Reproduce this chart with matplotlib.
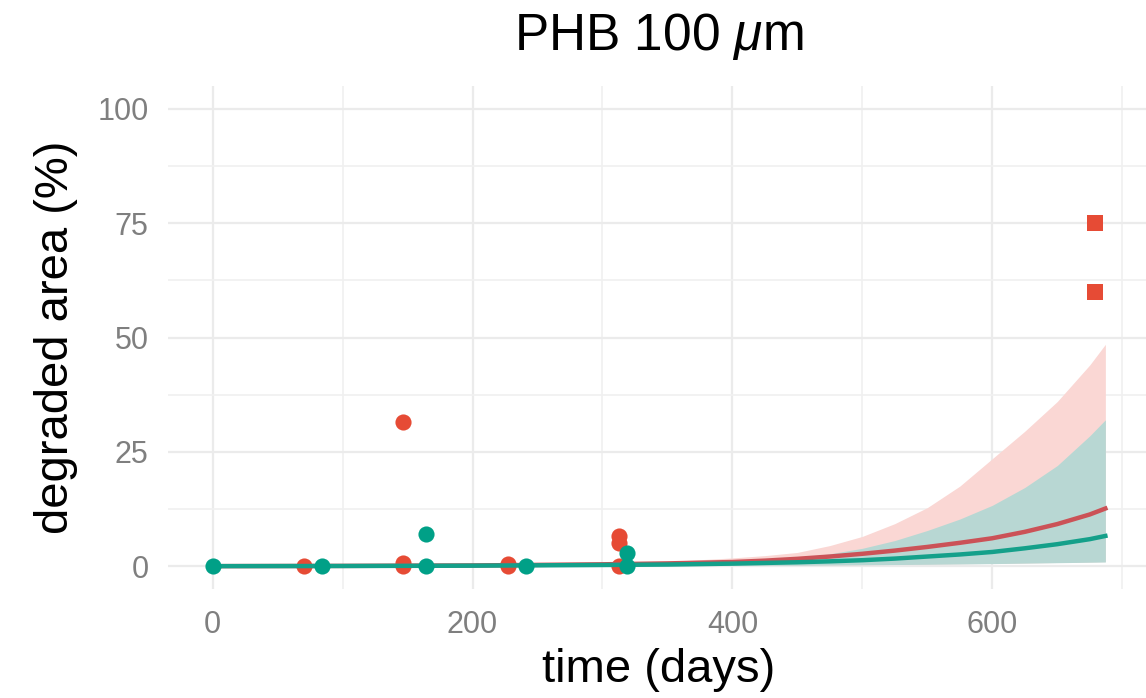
import matplotlib
matplotlib.use("Agg")
import matplotlib.pyplot as plt
from matplotlib.ticker import MultipleLocator

plt.rcParams["font.family"] = ["Liberation Sans", "DejaVu Sans"]
plt.rcParams["mathtext.fontset"] = "custom"
plt.rcParams["mathtext.rm"] = "Liberation Sans"
plt.rcParams["mathtext.it"] = "Liberation Sans:italic"

# ── data ──────────────────────────────────────────────────────────────────────
red_days = [70, 146.6, 146.6, 146.6, 227, 227, 312.8, 312.8, 312.8]
red_vals = [0, 31.6, 0, 0.6, 0, 0.5, 6.5, 5.0, 0]
teal_days = [0, 84, 164, 164, 241.5, 319, 319]
teal_vals = [0, 0, 7.0, 0, 0, 2.8, 0]
sq_days = [678.7, 678.7]
sq_vals = [75.1, 60.0]

fit_days = [0, 100, 200, 300, 350, 400, 425, 450, 475, 500, 525, 550,
            575, 600, 625, 650, 675, 687]
red_fit = [0, 0.05, 0.15, 0.4, 0.6, 0.9, 1.2, 1.6, 2.1, 2.7, 3.4, 4.2,
           5.1, 6.1, 7.5, 9.2, 11.3, 12.6]
red_lo = [0, 0, 0, 0.05, 0.1, 0.15, 0.18, 0.2, 0.25, 0.3, 0.37, 0.45,
          0.52, 0.6, 0.7, 0.8, 0.92, 1.0]
red_hi = [0.05, 0.1, 0.25, 0.6, 1.0, 1.8, 2.3, 3.0, 4.5, 6.5, 9.3, 12.8,
          17.5, 23.5, 29.5, 36.0, 44.0, 48.5]
teal_fit = [0, 0.03, 0.1, 0.25, 0.35, 0.55, 0.7, 0.85, 1.05, 1.3, 1.65, 2.1,
            2.55, 3.1, 3.9, 4.8, 5.9, 6.6]
teal_lo = [0, 0, 0, 0.05, 0.1, 0.15, 0.18, 0.2, 0.25, 0.3, 0.35, 0.4,
           0.47, 0.55, 0.65, 0.75, 0.85, 0.9]
teal_hi = [0.03, 0.08, 0.2, 0.4, 0.6, 0.9, 1.3, 1.8, 2.7, 3.9, 5.6, 7.8,
           10.3, 13.3, 17.2, 22.0, 28.5, 32.0]

RED = "#E64B35"
TEAL = "#00A087"

# ── plot ──────────────────────────────────────────────────────────────────────
fig = plt.figure(figsize=(11.46, 6.98), dpi=100)
ax = fig.add_axes([168 / 1146, 109 / 698, 982 / 1146, 503 / 698])

ax.fill_between(fit_days, red_lo, red_hi, color="#FAD7D4", lw=0)
ax.fill_between(fit_days, teal_lo, teal_hi, color="#B8D7D3", lw=0)

ax.scatter(red_days, red_vals, s=135, color=RED, lw=0, zorder=3)
ax.plot(fit_days, red_fit, color="#CB5257", lw=3.2, zorder=4)
ax.plot(fit_days, teal_fit, color="#14A08A", lw=3.2, zorder=4)
ax.scatter(teal_days, teal_vals, s=135, color=TEAL, lw=0, zorder=5)
ax.scatter(sq_days, sq_vals, s=140, marker="s", color=RED, lw=0, zorder=5)

ax.set_xlim(-34.35, 721.35)
ax.set_ylim(-5, 105)
ax.xaxis.set_major_locator(MultipleLocator(200))
ax.xaxis.set_minor_locator(MultipleLocator(100))
ax.yaxis.set_major_locator(MultipleLocator(25))
ax.yaxis.set_minor_locator(MultipleLocator(12.5))
ax.grid(which="major", color="#EBEBEB", lw=1.6)
ax.grid(which="minor", color="#F0F0F0", lw=1.2)
ax.set_axisbelow(True)
for s in ax.spines.values():
    s.set_visible(False)
ax.tick_params(which="both", length=0)
ax.tick_params(axis="y", labelsize=22, labelcolor="#7F7F7F", pad=14)
ax.tick_params(axis="x", labelsize=22, labelcolor="#7F7F7F", pad=15)

ax.set_xlabel("time (days)", fontsize=34, labelpad=6)
ax.set_ylabel("degraded area (%)", fontsize=34, labelpad=14)
ax.set_title(r"PHB 100 $\mu$m", fontsize=37, pad=26)

fig.savefig("out.png", dpi=100)
